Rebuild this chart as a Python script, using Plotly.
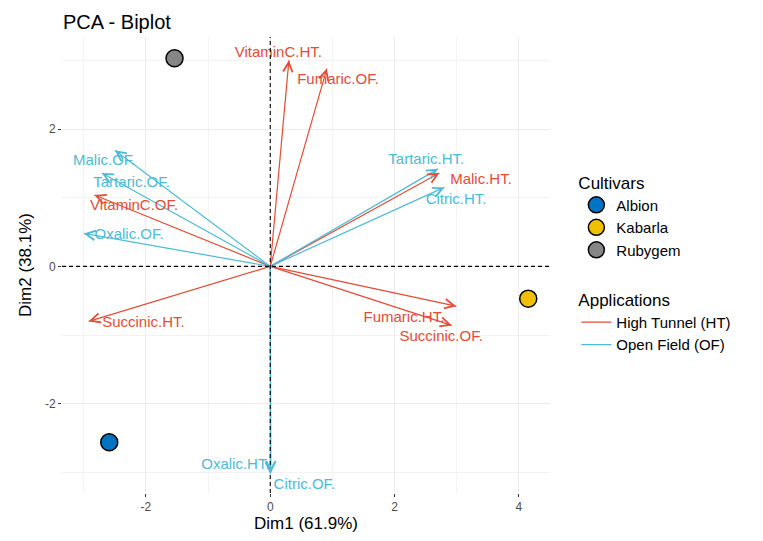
import plotly.graph_objects as go

# Individuals (cultivars)
cultivars = ["Albion", "Kabarla", "Rubygem"]
cult_dim1 = [-2.59, 4.15, -1.54]
cult_dim2 = [-2.56, -0.47, 3.03]
cult_colors = ["#0073C2", "#EFC000", "#868686"]

# Variables (arrows)
var_names = ["VitaminC.HT.", "Fumaric.OF.", "Malic.OF.", "Tartaric.OF.", "VitaminC.OF.",
             "Oxalic.OF.", "Tartaric.HT.", "Malic.HT.", "Citric.HT.", "Succinic.HT.",
             "Fumaric.HT.", "Succinic.OF.", "Oxalic.HT.", "Citric.OF."]
var_dim1 = [0.30, 0.91, -2.50, -2.71, -2.83, -3.00, 2.70, 2.72, 2.80, -2.92, 2.99, 2.92, 0.00, 0.01]
var_dim2 = [3.00, 2.88, 1.69, 1.36, 1.04, 0.48, 1.42, 1.36, 1.15, -0.80, -0.58, -0.86, -3.02, -3.00]
var_group = ["HT", "HT", "OF", "OF", "HT", "OF", "OF", "HT", "OF", "HT", "HT", "HT", "OF", "OF"]
# label anchor positions (repelled text)
label_dim1 = [0.13, 1.09, -2.67, -2.23, -2.19, -2.27, 2.51, 3.39, 2.99, -2.04, 2.15, 2.75, -0.56, 0.55]
label_dim2 = [3.11, 2.71, 1.53, 1.21, 0.87, 0.45, 1.54, 1.25, 0.97, -0.83, -0.76, -1.03, -2.90, -3.19]

groups = ["HT", "OF"]
group_names = {"HT": "High Tunnel (HT)", "OF": "Open Field (OF)"}
group_colors = {"HT": "#E64B35", "OF": "#4DBBD5"}

x_ticks = [-2, 0, 2, 4]
x_ticklabels = ["-2", "0", "2", "4"]
y_ticks = [-2, 0, 2]
y_ticklabels = ["-2", "0", "2"]

FONT = "Liberation Sans, Arial, sans-serif"

fig = go.Figure()

# arrow shafts, one trace per application group
for g in groups:
    xs, ys = [], []
    for x, y, gg in zip(var_dim1, var_dim2, var_group):
        if gg == g:
            xs += [0, x, None]
            ys += [0, y, None]
    fig.add_trace(go.Scatter(
        x=xs, y=ys, mode="lines", name=group_names[g],
        line=dict(color=group_colors[g], width=1.2),
        legend="legend2", hoverinfo="skip"))

# arrowheads
for x, y, g in zip(var_dim1, var_dim2, var_group):
    fig.add_annotation(
        x=x, y=y, ax=x * 0.97, ay=y * 0.97, xref="x", yref="y", axref="x", ayref="y",
        showarrow=True, arrowhead=5, arrowsize=1.7, arrowwidth=1.1,
        arrowcolor=group_colors[g], text="", standoff=0)

# variable labels
fig.add_trace(go.Scatter(
    x=label_dim1, y=label_dim2, mode="text", text=var_names,
    textfont=dict(family=FONT, size=15, color=[group_colors[g] for g in var_group]),
    showlegend=False, hoverinfo="skip"))

# cultivar points
for name, x, y, c in zip(cultivars, cult_dim1, cult_dim2, cult_colors):
    fig.add_trace(go.Scatter(
        x=[x], y=[y], mode="markers", name=name,
        marker=dict(size=17, color=c, line=dict(color="black", width=1.5)),
        legend="legend"))

# the page body adds an 8px offset, compensated in the margins below
fig.update_layout(
    width=763, height=541,
    paper_bgcolor="white", plot_bgcolor="white",
    margin=dict(l=54, r=221, t=29, b=56),
    font=dict(family=FONT, color="black"),
    title=dict(text="PCA - Biplot", x=55 / 763, xanchor="left", xref="container",
               y=1 - 14 / 541, yanchor="middle", yref="container",
               font=dict(size=20, color="black")),
    xaxis=dict(range=[-3.35, 4.5], tickvals=x_ticks, ticktext=x_ticklabels,
               showgrid=True, gridcolor="#EBEBEB", automargin=False,
               gridwidth=1, zeroline=False, ticks="outside", ticklen=3, tickcolor="#333333",
               tickfont=dict(size=12, color="#4D4D4D"),
               minor=dict(tickvals=[-3, -1, 1, 3], showgrid=True, gridcolor="#F3F3F3",
                          gridwidth=1, ticks=""),
               title=dict(text="Dim1 (61.9%)", font=dict(size=17, color="black"), standoff=0)),
    yaxis=dict(range=[-3.30, 3.34], tickvals=y_ticks, ticktext=y_ticklabels,
               showgrid=True, gridcolor="#EBEBEB", automargin=False,
               gridwidth=1, zeroline=False, ticks="outside", ticklen=3, tickcolor="#333333",
               tickfont=dict(size=12, color="#4D4D4D"),
               minor=dict(tickvals=[-3, -1, 1, 3], showgrid=True, gridcolor="#F3F3F3",
                          gridwidth=1, ticks=""),
               title=dict(text="Dim2 (38.1%)", font=dict(size=17, color="black"), standoff=8)),
    legend=dict(title=dict(text="Cultivars", font=dict(size=17)), x=1.054, xanchor="left",
                y=0.716, yanchor="top", font=dict(size=15), bgcolor="rgba(0,0,0,0)",
                itemsizing="trace"),
    legend2=dict(title=dict(text="Applications", font=dict(size=17)), x=1.054, xanchor="left",
                 y=0.459, yanchor="top", font=dict(size=15), bgcolor="rgba(0,0,0,0)"),
    shapes=[
        dict(type="line", xref="x", yref="y domain", x0=0, x1=0, y0=0, y1=1,
             line=dict(color="black", width=1.1, dash="4px,3px")),
        dict(type="line", xref="x domain", yref="y", x0=0, x1=1, y0=0, y1=0,
             line=dict(color="black", width=1.1, dash="4px,3px")),
    ],
)

fig.write_html("out.html")
